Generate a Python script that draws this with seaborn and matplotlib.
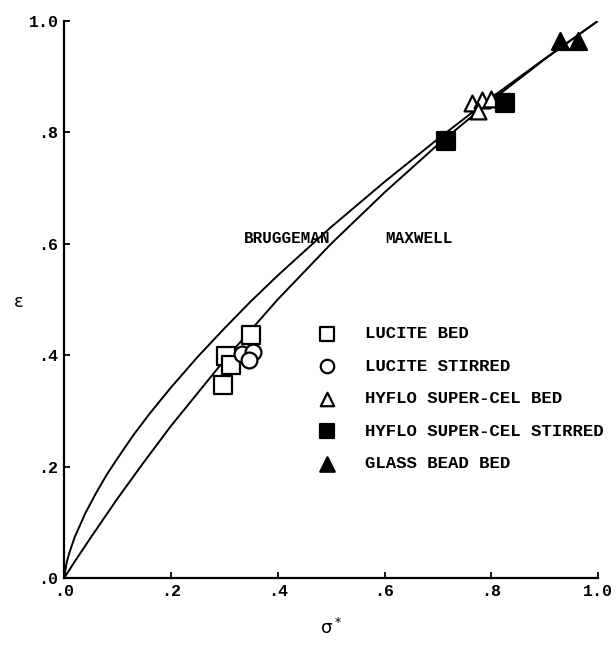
import numpy as np
import pandas as pd
import matplotlib
matplotlib.use('Agg')
import matplotlib.pyplot as plt
import seaborn as sns

# curves (sigma*, epsilon)
brug_sigma = [0.0, 0.005, 0.01, 0.02, 0.04, 0.06, 0.08, 0.10, 0.13, 0.16, 0.20,
              0.25, 0.30, 0.35, 0.40, 0.50, 0.60, 0.70, 0.80, 0.90, 1.0]
brug_eps = [0.0, 0.029, 0.046, 0.074, 0.117, 0.153, 0.186, 0.215, 0.257, 0.295, 0.342,
            0.397, 0.448, 0.497, 0.543, 0.630, 0.711, 0.788, 0.862, 0.932, 1.0]

maxw_sigma = [0.0, 0.02, 0.05, 0.10, 0.15, 0.20, 0.30, 0.40, 0.50, 0.60, 0.70, 0.80, 0.90, 1.0]
maxw_eps = [0.0, 0.030, 0.073, 0.143, 0.209, 0.273, 0.391, 0.500, 0.600, 0.692, 0.778, 0.857, 0.931, 1.0]

# measured points
lucite_bed_x = [0.350, 0.303, 0.313, 0.297]
lucite_bed_y = [0.436, 0.399, 0.382, 0.347]

lucite_stir_x = [0.333, 0.354, 0.346]
lucite_stir_y = [0.403, 0.406, 0.391]

hyflo_bed_x = [0.763, 0.782, 0.800, 0.775]
hyflo_bed_y = [0.852, 0.857, 0.859, 0.838]

hyflo_stir_x = [0.715, 0.826]
hyflo_stir_y = [0.785, 0.853]

glass_x = [0.929, 0.962]
glass_y = [0.963, 0.963]

ticks = [0.0, 0.2, 0.4, 0.6, 0.8, 1.0]
tick_labels = ['.0', '.2', '.4', '.6', '.8', '1.0']

sns.set_style('ticks')
plt.rcParams['font.family'] = ['Liberation Mono', 'DejaVu Sans']
plt.rcParams['font.weight'] = 'bold'
for k in ['text.color', 'axes.labelcolor', 'xtick.color', 'ytick.color', 'axes.edgecolor']:
    plt.rcParams[k] = 'black'

fig = plt.figure(figsize=(6.16, 6.49), dpi=100)
ax = fig.add_axes([0.104, 0.109, 0.867, 0.859])

sns.lineplot(x=brug_sigma, y=brug_eps, sort=False, color='black', linewidth=1.4, ax=ax, zorder=2)
sns.lineplot(x=maxw_sigma, y=maxw_eps, sort=False, color='black', linewidth=1.4, ax=ax, zorder=2)

kw = dict(edgecolor='black', linewidth=1.6, ax=ax, zorder=3)
sns.scatterplot(x=lucite_bed_x, y=lucite_bed_y, marker='s', s=150, color='white',
                label='LUCITE BED', **kw)
sns.scatterplot(x=lucite_stir_x, y=lucite_stir_y, marker='o', s=130, color='white',
                label='LUCITE STIRRED', **kw)
sns.scatterplot(x=hyflo_bed_x, y=hyflo_bed_y, marker='^', s=130, color='white',
                label='HYFLO SUPER-CEL BED', **kw)
sns.scatterplot(x=hyflo_stir_x, y=hyflo_stir_y, marker='s', s=150, color='black',
                label='HYFLO SUPER-CEL STIRRED', **kw)
sns.scatterplot(x=glass_x, y=glass_y, marker='^', s=150, color='black',
                label='GLASS BEAD BED', **kw)

ax.text(0.417, 0.61, 'BRUGGEMAN', ha='center', va='center', fontsize=11.5)
ax.text(0.664, 0.61, 'MAXWELL', ha='center', va='center', fontsize=11.5)

ax.set_xlim(0, 1.0)
ax.set_ylim(0, 1.0)
ax.set_xticks(ticks)
ax.set_xticklabels(tick_labels, fontsize=12)
ax.set_yticks(ticks)
ax.set_yticklabels(tick_labels, fontsize=12)
ax.tick_params(direction='in', length=4, width=1.3, pad=4)
for s in ['left', 'bottom']:
    ax.spines[s].set_linewidth(1.6)
sns.despine(ax=ax)

ax.set_xlabel(r'$\mathregular{\sigma^*}$', fontsize=13, labelpad=14, fontweight='normal',
              family='DejaVu Sans')
ax.set_ylabel('ε', fontsize=13, rotation=0, family='DejaVu Sans', fontweight='normal')
ax.yaxis.set_label_coords(-0.085, 0.48)

ax.legend(loc='upper left', bbox_to_anchor=(0.46, 0.452), frameon=False,
          fontsize=12.5, labelspacing=1.0, handletextpad=1.2, borderaxespad=0,
          borderpad=0, markerscale=0.85)

fig.savefig('out.png', dpi=100)
